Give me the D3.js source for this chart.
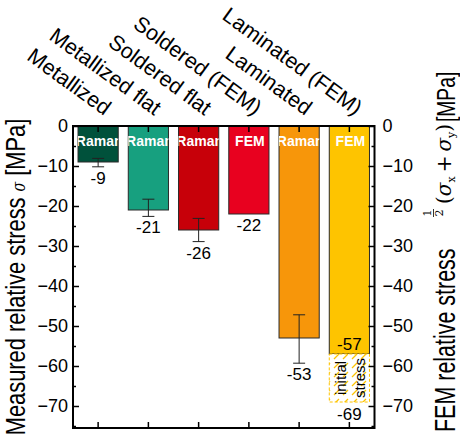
<!DOCTYPE html>
<html>
<head>
<meta charset="utf-8">
<script src="https://cdn.jsdelivr.net/npm/d3@7"></script>
<style>
  body { margin: 0; background: #fff; }
  svg text { font-family: Arial, "Liberation Sans", sans-serif; }
</style>
</head>
<body>
<div id="gr"></div>
<script>
// chart data
var categories = ["Metallized", "Metallized flat", "Soldered flat", "Soldered (FEM)", "Laminated", "Laminated (FEM)"];
var values = [-9, -21, -26, -22, -53, -57];
var errLow = [-10.2, -22.6, -28.9, null, -59.3, null];
var errHigh = [-8.1, -18.3, -23.1, null, -47.2, null];
var methods = ["Raman", "Raman", "Raman", "FEM", "Raman", "FEM"];
var colors = ["#00513b", "#17a07f", "#c70009", "#e8011f", "#f7960a", "#fec400"];
var initialStress = [-57, -69];
var yTicks = [0, -10, -20, -30, -40, -50, -60, -70];

var width = 460, height = 434;
var pLeft = 73, pRight = 374.5, pTop = 126, pBottom = 428;

var svg = d3.select("#gr").append("svg")
  .attr("width", width)
  .attr("height", height);

var x = d3.scaleBand().domain(categories).range([pLeft, pRight])
  .paddingInner(0.2).paddingOuter(0.1);
var y = d3.scaleLinear().domain([-75.5, 0]).range([pBottom, pTop]);

var defs = svg.append("defs");
var pat = defs.append("pattern")
  .attr("id", "hatch")
  .attr("patternUnits", "userSpaceOnUse")
  .attr("width", 9).attr("height", 9);
pat.append("rect").attr("width", 9).attr("height", 9).attr("fill", "#fff");
pat.append("line")
  .attr("x1", 1).attr("y1", 8).attr("x2", 6).attr("y2", 3)
  .attr("stroke", "#fec400").attr("stroke-width", 1.2);

// clip paths so the method text is cut at the bar edges
categories.forEach(function (c, i) {
  defs.append("clipPath").attr("id", "clip" + i)
    .append("rect")
    .attr("x", x(c)).attr("y", y(0))
    .attr("width", x.bandwidth()).attr("height", y(values[i]) - y(0));
});

// bars
svg.selectAll("rect.bar")
  .data(categories)
  .enter().append("rect")
  .attr("class", "bar")
  .attr("x", function (d) { return x(d); })
  .attr("y", y(0))
  .attr("width", x.bandwidth())
  .attr("height", function (d, i) { return y(values[i]) - y(0); })
  .attr("fill", function (d, i) { return colors[i]; })
  .attr("stroke", "#2a2a2a")
  .attr("stroke-width", 1);

// initial stress box on the last bar
var last = categories[5];
svg.append("rect")
  .attr("x", x(last)).attr("y", y(initialStress[0]))
  .attr("width", x.bandwidth())
  .attr("height", y(initialStress[1]) - y(initialStress[0]))
  .attr("fill", "url(#hatch)")
  .attr("stroke", "#fec400")
  .attr("stroke-width", 1)
  .attr("stroke-dasharray", "3,2");

var cxLast = x(last) + x.bandwidth() / 2;
var midBox = (y(initialStress[0]) + y(initialStress[1])) / 2;
svg.append("text")
  .attr("transform", "translate(" + (cxLast - 3) + "," + midBox + ") rotate(-90)")
  .attr("text-anchor", "middle")
  .style("font-size", "15px")
  .text("initial");
svg.append("text")
  .attr("transform", "translate(" + (cxLast + 16) + "," + midBox + ") rotate(-90)")
  .attr("text-anchor", "middle")
  .style("font-size", "15px")
  .text("stress");

// method labels inside bars
svg.selectAll("text.method")
  .data(categories)
  .enter().append("text")
  .attr("class", "method")
  .attr("clip-path", function (d, i) { return "url(#clip" + i + ")"; })
  .attr("x", function (d) { return x(d) + x.bandwidth() / 2 + 1; })
  .attr("y", 146)
  .attr("text-anchor", "middle")
  .attr("fill", "#fff")
  .style("font-size", "14px")
  .style("font-weight", "bold")
  .text(function (d, i) { return methods[i]; });

// error bars
categories.forEach(function (c, i) {
  if (errLow[i] == null) return;
  var cx = x(c) + x.bandwidth() / 2;
  var g = svg.append("g").attr("stroke", "#222").attr("stroke-width", 1);
  g.append("line").attr("x1", cx).attr("x2", cx).attr("y1", y(errHigh[i])).attr("y2", y(errLow[i]));
  g.append("line").attr("x1", cx - 6).attr("x2", cx + 6).attr("y1", y(errHigh[i])).attr("y2", y(errHigh[i]));
  g.append("line").attr("x1", cx - 6).attr("x2", cx + 6).attr("y1", y(errLow[i])).attr("y2", y(errLow[i]));
});

// value labels
categories.forEach(function (c, i) {
  var cx = x(c) + x.bandwidth() / 2;
  var yy;
  if (i == 5) yy = y(values[i]) - 4;
  else yy = y(errLow[i] == null ? values[i] : errLow[i]) + 17;
  svg.append("text")
    .attr("x", cx).attr("y", yy)
    .attr("text-anchor", "middle")
    .style("font-size", "17px")
    .text(values[i]);
});
svg.append("text")
  .attr("x", cxLast).attr("y", y(initialStress[1]) + 18)
  .attr("text-anchor", "middle")
  .style("font-size", "17px")
  .text(initialStress[1]);

// frame and axes
var yLeft = d3.axisLeft(y).tickValues(yTicks).tickSize(-6).tickFormat(d3.format("d")).tickPadding(5);
var yLeftMinor = d3.axisLeft(y).tickValues(d3.range(-5, -80, -10)).tickSize(-3).tickFormat("");
var yRight = d3.axisRight(y).tickValues(yTicks).tickSize(-6).tickFormat(d3.format("d")).tickPadding(8);
var yRightMinor = d3.axisRight(y).tickValues(d3.range(-5, -80, -10)).tickSize(-3).tickFormat("");
var xTop = d3.axisTop(x).tickSize(-6).tickFormat("");
var xBottom = d3.axisBottom(x).tickSize(-6).tickFormat("");

function styleAxis(g) {
  g.select(".domain").remove();
  g.selectAll("line").attr("stroke", "#000").attr("stroke-width", 1.5);
  g.selectAll("text").style("font-size", "18px").attr("fill", "#000");
}

svg.append("g").attr("transform", "translate(" + pLeft + ",0)").call(yLeft).call(styleAxis);
svg.append("g").attr("transform", "translate(" + pLeft + ",0)").call(yLeftMinor).call(styleAxis);
svg.append("g").attr("transform", "translate(" + pRight + ",0)").call(yRight).call(styleAxis);
svg.append("g").attr("transform", "translate(" + pRight + ",0)").call(yRightMinor).call(styleAxis);
svg.append("g").attr("transform", "translate(0," + pTop + ")").call(xTop).call(styleAxis);
svg.append("g").attr("transform", "translate(0," + pBottom + ")").call(xBottom).call(styleAxis);

svg.append("rect")
  .attr("x", pLeft).attr("y", pTop)
  .attr("width", pRight - pLeft).attr("height", pBottom - pTop)
  .attr("fill", "none").attr("stroke", "#000").attr("stroke-width", 2);

// rotated category labels
svg.selectAll("text.cat")
  .data(categories)
  .enter().append("text")
  .attr("class", "cat")
  .attr("text-anchor", "end")
  .attr("transform", function (d) {
    return "translate(" + (x(d) + x.bandwidth() / 2 + 6) + ",116) rotate(36)";
  })
  .style("font-size", "21.5px")
  .text(function (d) { return d; });

// left axis title
var lt = svg.append("text")
  .attr("transform", "translate(25,277) rotate(-90) scale(0.78,1)")
  .attr("text-anchor", "middle")
  .style("font-size", "28px");
lt.append("tspan").text("Measured relative stress ");
lt.append("tspan").style("font-family", "'DejaVu Serif', serif").style("font-style", "italic").style("font-size", "18px").text("σ");
lt.append("tspan").text(" [MPa]");

// right axis title, built in rotated coordinates
var rg = svg.append("g").attr("transform", "translate(455,432) rotate(-90)");
rg.append("text").attr("transform", "scale(0.74,1)").style("font-size", "29px").text("FEM relative stress");
var fx = 219;
rg.append("text").attr("x", fx).attr("y", -24).attr("text-anchor", "middle")
  .style("font-family", "'DejaVu Serif', serif").style("font-size", "11px").text("1");
rg.append("line").attr("x1", fx - 4).attr("x2", fx + 4).attr("y1", -21.5).attr("y2", -21.5)
  .attr("stroke", "#000").attr("stroke-width", 0.8);
rg.append("text").attr("x", fx).attr("y", -12).attr("text-anchor", "middle")
  .style("font-family", "'DejaVu Serif', serif").style("font-size", "11px").text("2");
var mt = rg.append("text").attr("x", 228).attr("y", -4)
  .style("font-family", "'DejaVu Serif', serif").style("font-size", "20px");
mt.append("tspan").text("(");
mt.append("tspan").style("font-style", "italic").text("σ");
mt.append("tspan").attr("dy", 4).style("font-size", "11px").text("x");
mt.append("tspan").attr("dy", -4).attr("dx", 4).text("+");
mt.append("tspan").attr("dx", 4).style("font-style", "italic").text("σ");
mt.append("tspan").attr("dy", 4).style("font-size", "11px").text("y");
mt.append("tspan").attr("dy", -4).text(")");
rg.append("text").attr("x", 310).attr("y", 0)
  .attr("transform", "translate(310,0) scale(0.74,1) translate(-310,0)")
  .style("font-size", "26px")
  .text("[MPa]");
</script>
</body>
</html>
